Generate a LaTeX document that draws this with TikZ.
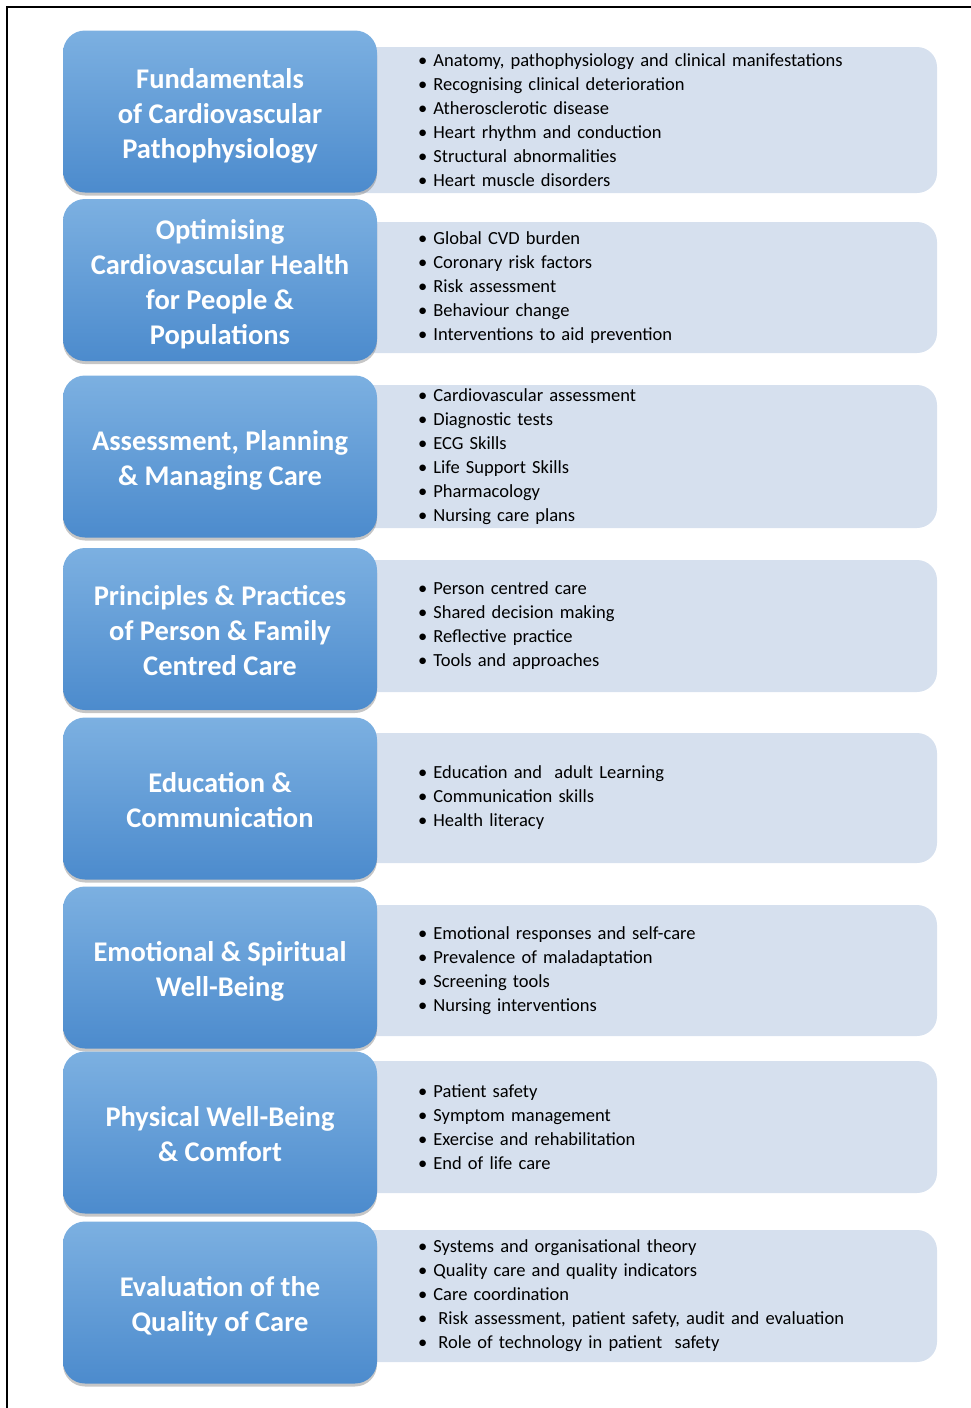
\documentclass[tikz,border=0pt]{standalone}
\usepackage{fontspec}
\setmainfont{Carlito}
\usetikzlibrary{shadows}

\definecolor{boxtop}{RGB}{124,176,225}
\definecolor{boxbottom}{RGB}{76,139,205}
\definecolor{listfill}{RGB}{214,224,238}

\tikzset{
  topic/.style={rounded corners=22pt, top color=boxtop, bottom color=boxbottom,
    minimum width=314pt, minimum height=162pt, align=center, text=white,
    font=\fontsize{28.5}{35}\selectfont\bfseries,
    drop shadow={shadow xshift=0pt, shadow yshift=-3pt, opacity=0.45}},
  topiclist/.style={fill=listfill, rounded corners=20pt, minimum width=597pt,
    text width=441pt, align=left, inner xsep=0pt,
    font=\fontsize{18.5}{24}\selectfont}
}
\newcommand{\itm}{\textbullet\ }
% struts so every title block sits a little low in its box
\newcommand{\ts}{\rule{0pt}{30pt}}
\newcommand{\bs}{\rule[-7pt]{0pt}{0pt}}

\begin{document}
\begin{tikzpicture}[x=1pt,y=-1pt]
  \useasboundingbox (0,0) rectangle (971,1408);
  \draw[line width=1.5pt] (7,1408) -- (7,7) -- (971,7);

  % Set up the lists (drawn first, they sit behind the boxes)
  \node[topiclist, minimum height=146pt] (fund-l) at (638.5,120) {\itm Anatomy, pathophysiology and clinical manifestations\\
    \itm Recognising clinical deterioration\\ \itm Atherosclerotic disease\\ \itm Heart rhythm and conduction\\
    \itm Structural abnormalities\\ \itm Heart muscle disorders};
  \node[topiclist, minimum height=131pt] (opt-l) at (638.5,287.5) {\itm Global CVD burden\\ \itm Coronary risk factors\\
    \itm Risk assessment\\ \itm Behaviour change\\ \itm Interventions to aid prevention};
  \node[topiclist, minimum height=143pt] (assess-l) at (638.5,456.5) {\itm Cardiovascular assessment\\ \itm Diagnostic tests\\
    \itm ECG Skills\\ \itm Life Support Skills\\ \itm Pharmacology\\ \itm Nursing care plans};
  \node[topiclist, minimum height=132pt] (pract-l) at (638.5,626) {\itm Person centred care\\ \itm Shared decision making\\
    \itm Reflective practice\\ \itm Tools and approaches};
  \node[topiclist, minimum height=130pt] (edu-l) at (638.5,798) {\itm Education and\ \ adult Learning\\
    \itm Communication skills\\ \itm Health literacy};
  \node[topiclist, minimum height=131pt] (emo-l) at (638.5,970.5) {\itm Emotional responses and self-care\\
    \itm Prevalence of maladaptation\\ \itm Screening tools\\ \itm Nursing interventions};
  \node[topiclist, minimum height=132pt] (phys-l) at (638.5,1127) {\itm Patient safety\\ \itm Symptom management\\
    \itm Exercise and rehabilitation\\ \itm End of life care};
  \node[topiclist, minimum height=132pt] (eval-l) at (638.5,1296) {\itm Systems and organisational theory\\
    \itm Quality care and quality indicators\\ \itm Care coordination\\
    \itm\hspace{5pt}Risk assessment, patient safety, audit and evaluation\\
    \itm\hspace{5pt}Role of technology in patient\ \ safety};

  % Add the topic boxes
  \node[topic] (fund) at (220,111.5) {\ts Fundamentals\\of Cardiovascular\\Pathophysiology\bs};
  \node[topic] (opt) at (220,280) {\ts Optimising\\Cardiovascular Health\\for People \&\\Populations\bs};
  \node[topic] (assess) at (220,456.5) {\ts Assessment, Planning\\\& Managing Care\bs};
  \node[topic] (pract) at (220,629) {\ts Principles \& Practices\\of Person \& Family\\Centred Care\bs};
  \node[topic] (edu) at (220,798.5) {\ts Education \&\\Communication\bs};
  \node[topic] (emo) at (220,967.5) {\ts Emotional \& Spiritual\\Well-Being\bs};
  \node[topic] (phys) at (220,1132.5) {\ts Physical Well-Being\\\& Comfort\bs};
  \node[topic] (eval) at (220,1302.5) {\ts Evaluation of the\\Quality of Care\bs};
\end{tikzpicture}
\end{document}
